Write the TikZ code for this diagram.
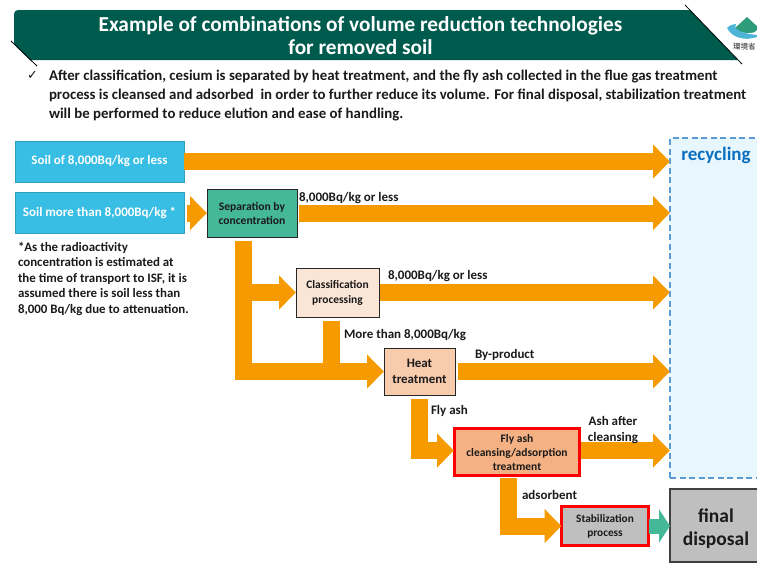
\documentclass[tikz,border=0pt]{standalone}
\usepackage{fontspec}
\setmainfont{Carlito}
\newfontfamily\cjkfont{Noto Sans CJK JP}
\newfontfamily\markfont{DejaVu Sans}
\usetikzlibrary{arrows.meta,shapes.geometric}
\definecolor{bannergreen}{HTML}{005B4F}
\definecolor{flowor}{HTML}{F59B00}
\definecolor{soilblue}{HTML}{38BDE4}
\definecolor{soiledge}{HTML}{2F9FC0}
\definecolor{sepgreen}{HTML}{45B89A}
\definecolor{recfill}{HTML}{E8F6FD}
\definecolor{recedge}{HTML}{5B9BD5}
\definecolor{rectext}{HTML}{0B6FBF}
\definecolor{graybox}{HTML}{BFBFBF}
\definecolor{peach1}{HTML}{FBE5D6}
\definecolor{peach2}{HTML}{F8CBAD}
\definecolor{peach3}{HTML}{F4B183}
\definecolor{txt}{HTML}{1A1A1A}
\definecolor{logogreen}{HTML}{2E9B7A}
\definecolor{logoblue}{HTML}{4FB5D8}
\tikzset{
  every node/.style={font=\bfseries, text=txt, inner sep=0pt, outer sep=0pt},
  flow/.style={draw=flowor, line width=17pt, line cap=butt, line join=miter,
     -{Triangle[length=17pt,width=33pt,color=flowor]}},
  trunk/.style={draw=flowor, line width=17pt, line cap=butt},
  greenflow/.style={draw=sepgreen, line width=15pt, line cap=butt,
     -{Triangle[length=11pt,width=33pt,color=sepgreen]}},
  soilbox/.style={draw=soiledge, line width=1pt, fill=soilblue, text=white, minimum width=169pt, minimum height=41pt, font=\bfseries\fontsize{13}{15}\selectfont},
  procbox/.style={draw=black!85, line width=1pt, align=center, font=\bfseries\fontsize{11.6}{14}\selectfont},
  redbox/.style={draw=red, line width=2.2pt, align=center, font=\bfseries\fontsize{11.5}{14}\selectfont},
  lab/.style={anchor=west, font=\bfseries\fontsize{13}{15}\selectfont},
}
\begin{document}
\begin{tikzpicture}[x=1pt,y=-1pt]
\path[use as bounding box, clip] (0,0) rectangle (757,563);
% banner
\fill[bannergreen] (14,14) arc[start angle=180,end angle=90,radius=4pt] -- (690,10) -- (738,60) -- (30,60) -- (14,44) -- cycle;
\draw[black, line width=.8pt] (685,5) -- (742,64);
\draw[black, line width=.8pt] (11,41) -- (37,66);
\node[text=white, align=center, font=\bfseries\fontsize{21.3}{22.5}\selectfont] (title) at (360.5,35.5) {Example of combinations of volume reduction technologies\\for removed soil};
% logo
\fill[logogreen] (747,17) -- (759,28) -- (747,39) -- (735,28) -- cycle;
\fill[white] (735,29) .. controls (742,34) and (750,34) .. (760,31) -- (760,38) -- (735,38) -- cycle;
\fill[logoblue] (727,28) .. controls (730,25) and (733,24) .. (736,24) .. controls (733,28) and (738,33) .. (757,35) -- (757,37) .. controls (745,41) and (732,38) .. (727,28) -- cycle;
\node[font=\fontsize{7.5}{8}\selectfont\cjkfont, anchor=west] (logotext) at (733,47) {環境省};
% intro
\node[font=\markfont\fontsize{13}{14}\selectfont] (check) at (32.5,75) {✓};
\node[anchor=north west, align=left, font=\bfseries\fontsize{14.85}{19}\selectfont] (intro) at (49,70) {After classification, cesium is separated by heat treatment, and the fly ash collected in the flue gas treatment\\process is cleansed and adsorbed\ \ in order to further reduce its volume. For final disposal, stabilization treatment\\will be performed to reduce elution and ease of handling.};
% containers
\node[draw=recedge, fill=recfill, line width=2pt, dash pattern=on 6pt off 3.5pt, minimum width=105pt, minimum height=340pt, anchor=north west] (recycle) at (670,138) {};
\node[text=rectext, font=\bfseries\fontsize{19}{20}\selectfont] (rectext) at (716,155) {recycling};
\node[draw=black!75, fill=graybox, line width=1.2pt, minimum width=105pt, minimum height=73pt, anchor=north west] (final) at (670,489) {};
\node[align=center, font=\bfseries\fontsize{19.5}{23}\selectfont] (finaltext) at (716,528.5) {final\\disposal};
% boxes
\node[soilbox] (soila) at (99.5,161.5) {Soil of 8,000Bq/kg or less};
\node[soilbox] (soilb) at (99.5,213) {Soil more than 8,000Bq/kg *};
\node[procbox, fill=sepgreen, minimum width=90pt, minimum height=48pt] (sep) at (252,213) {Separation by\\concentration};
\node[procbox, fill=peach1, minimum width=83pt, minimum height=49pt, font=\bfseries\fontsize{11.5}{15}\selectfont] (classif) at (337.5,292.5) {Classification\\processing};
\node[procbox, fill=peach2, minimum width=71pt, minimum height=47pt, font=\bfseries\fontsize{12.9}{16}\selectfont] (heat) at (419.5,371.5) {Heat\\treatment};
\node[redbox, fill=peach3, minimum width=125pt, minimum height=47pt] (fly) at (517,452) {Fly ash\\cleansing/adsorption\\treatment};
\node[redbox, fill=graybox, minimum width=87pt, minimum height=39pt, font=\bfseries\fontsize{11.3}{14}\selectfont] (stab) at (605,526) {Stabilization\\process};
% footnote
\node[anchor=north west, align=left, font=\bfseries\fontsize{12.9}{15.5}\selectfont] (foot) at (18,242) {*As the radioactivity\\concentration is estimated at\\the time of transport to ISF, it is\\assumed there is soil less than\\8,000 Bq/kg due to attenuation.};
% connector anchors
\coordinate (trunktop) at (243,241);
\coordinate (trunkmid) at (243,292.5);
\coordinate (downtop) at (331.5,321);
\coordinate (downend) at (331.5,372);
\coordinate (flytop) at (419.5,399);
\coordinate (flyin) at (454,450.5);
\coordinate (flyout) at (580.5,450.5);
\coordinate (adstop) at (508,478);
% connectors
\draw[flow] (soila.east) -- (soila.east -| recycle.west);
\draw[flow] ([xshift=3pt]soilb.east) -- (sep.west);
\draw[flow] ([xshift=2pt]sep.east) -- (sep.east -| recycle.west);
\draw[trunk] (downtop) -- (downend);
\draw[flow] (trunktop) |- (heat.west);
\draw[flow] (trunkmid) -- (classif.west);
\draw[flow] ([xshift=1pt]classif.east) -- (classif.east -| recycle.west);
\draw[flow] ([xshift=3pt]heat.east) -- (heat.east -| recycle.west);
\draw[flow] (flytop) |- (flyin);
\draw[flow] (flyout) -- (flyout -| recycle.west);
\draw[flow] (adstop) |- (stab.west);
\draw[greenflow] (stab.east) -- (stab.east -| final.west);
% labels
\node[lab] (l1) at (299,198) {8,000Bq/kg or less};
\node[lab] (l2) at (388,276) {8,000Bq/kg or less};
\node[lab] (l3) at (344,335) {More than 8,000Bq/kg};
\node[lab] (l4) at (475,355) {By-product};
\node[lab] (l5) at (431,411) {Fly ash};
\node[align=center, font=\bfseries\fontsize{13}{16}\selectfont] (l6) at (613,430) {Ash after\\cleansing};
\node[lab] (l7) at (522,495) {adsorbent};
\end{tikzpicture}
\end{document}
